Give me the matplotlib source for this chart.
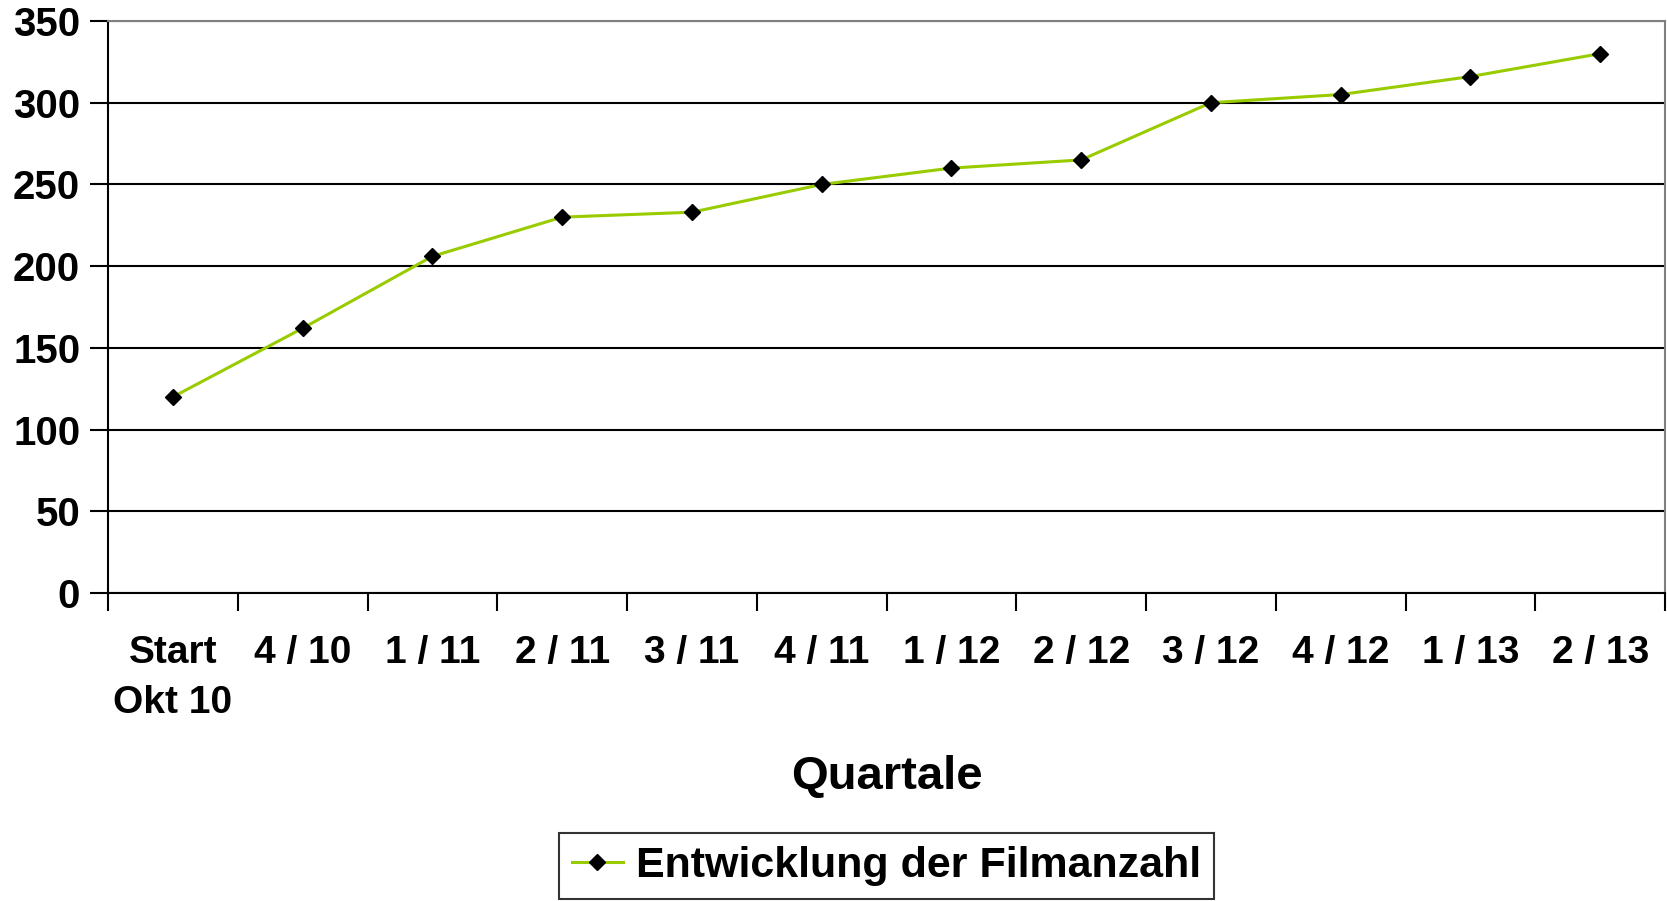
import numpy as np
import matplotlib.pyplot as plt

labels = ["Start\nOkt 10", "4 / 10", "1 / 11", "2 / 11", "3 / 11", "4 / 11",
          "1 / 12", "2 / 12", "3 / 12", "4 / 12", "1 / 13", "2 / 13"]
filme = [120, 162, 206, 230, 233, 250, 260, 265, 300, 305, 316, 330]

plt.rcParams['font.family'] = ['Liberation Sans', 'DejaVu Sans']
plt.rcParams['font.weight'] = 'bold'

fig = plt.figure(figsize=(16.67, 9.01), dpi=100)
ax = fig.add_axes([0.0648, 0.3418, 0.9340, 0.6349])

x = np.arange(len(filme))
ax.plot(x, filme, color='#99CC00', lw=2.2, marker='D', ms=8,
        mfc='black', mec='black', label='Entwicklung der Filmanzahl', zorder=3)

ax.set_xlim(-0.5, len(filme) - 0.5)
ax.set_ylim(0, 350)
ax.set_yticks(np.arange(0, 351, 50))
ax.yaxis.grid(True, color='black', lw=1.5)
ax.set_axisbelow(True)

# ticks at category boundaries, labels at centres
ax.set_xticks(np.arange(-0.5, len(filme), 1.0))
ax.set_xticklabels([])
ax.set_xticks(x, minor=True)
ax.set_xticklabels(labels, minor=True, fontsize=28, fontweight='bold', linespacing=1.5)
ax.tick_params(axis='x', which='major', direction='out', length=13, width=1.5, color='black')
ax.tick_params(axis='x', which='minor', length=0, pad=30)
ax.tick_params(axis='y', direction='out', length=13, width=1.5, labelsize=29, pad=7)
for t in ax.get_yticklabels():
    t.set_fontweight('bold')

for s in ['left', 'bottom']:
    ax.spines[s].set_color('black')
    ax.spines[s].set_linewidth(1.5)
for s in ['top', 'right']:
    ax.spines[s].set_color('#808080')
    ax.spines[s].set_linewidth(1.5)

ax.set_xlabel('Quartale', fontsize=34, fontweight='bold', labelpad=25)

# legend centred under the plot area
leg = fig.legend(loc='lower center', bbox_to_anchor=(0.5318, 0.0), fontsize=31,
                 frameon=True, fancybox=False, handlelength=1.2, handletextpad=0.3,
                 borderpad=0.3, borderaxespad=0.05)
leg.get_frame().set_edgecolor('black')
leg.get_frame().set_linewidth(1.5)
for t in leg.get_texts():
    t.set_fontweight('bold')

fig.savefig('out.png', dpi=100)
